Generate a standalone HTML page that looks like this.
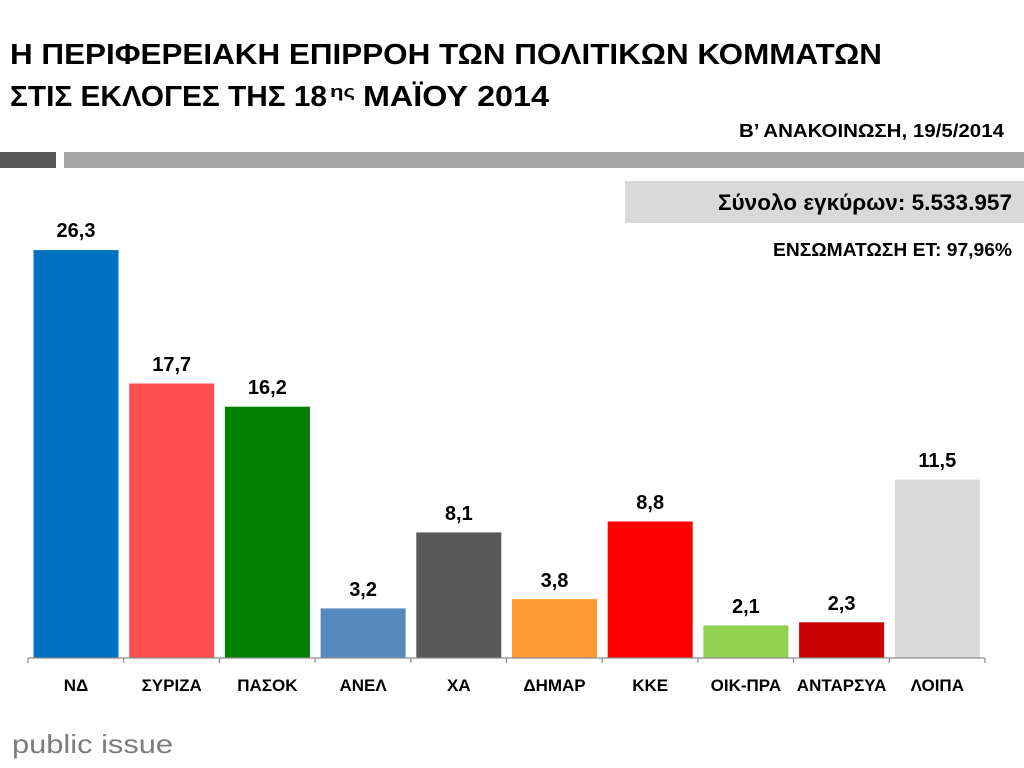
<!DOCTYPE html>
<html>
<head>
<meta charset="utf-8">
<style>
  html, body { margin: 0; padding: 0; background: #ffffff; }
  svg { display: block; }
  text { font-family: "Liberation Sans", "DejaVu Sans", sans-serif; }
</style>
</head>
<body>
<svg width="1024" height="768" viewBox="0 0 1024 768" xmlns="http://www.w3.org/2000/svg">
  <rect x="0" y="0" width="1024" height="768" fill="#ffffff"/>

  <!-- Title -->
  <text x="10" y="64" font-size="29" font-weight="bold" fill="#000" textLength="872" lengthAdjust="spacingAndGlyphs">Η ΠΕΡΙΦΕΡΕΙΑΚΗ ΕΠΙΡΡΟΗ ΤΩΝ ΠΟΛΙΤΙΚΩΝ ΚΟΜΜΑΤΩΝ</text>
  <text x="10" y="106" font-size="29" font-weight="bold" fill="#000" textLength="317" lengthAdjust="spacingAndGlyphs">ΣΤΙΣ ΕΚΛΟΓΕΣ ΤΗΣ 18</text>
  <text x="330" y="97" font-size="17" font-weight="bold" fill="#000" textLength="25" lengthAdjust="spacingAndGlyphs">ης</text>
  <text x="363" y="106" font-size="29" font-weight="bold" fill="#000" textLength="186" lengthAdjust="spacingAndGlyphs">ΜΑΪΟΥ 2014</text>

  <!-- Subtitle -->
  <text x="739" y="137" font-size="18" font-weight="bold" fill="#000" textLength="265" lengthAdjust="spacingAndGlyphs">Β’ ΑΝΑΚΟΙΝΩΣΗ, 19/5/2014</text>

  <!-- separator bars -->
  <rect x="0" y="152" width="56" height="16" fill="#595959"/>
  <rect x="64" y="152" width="960" height="16" fill="#A6A6A6"/>

  <!-- total box -->
  <rect x="625" y="181" width="399" height="42" fill="#D9D9D9"/>
  <text x="718" y="210" font-size="22" font-weight="bold" fill="#000" textLength="294" lengthAdjust="spacingAndGlyphs">Σύνολο εγκύρων: 5.533.957</text>
  <text x="773" y="256" font-size="18" font-weight="bold" fill="#000" textLength="239" lengthAdjust="spacingAndGlyphs">ΕΝΣΩΜΑΤΩΣΗ ΕΤ: 97,96%</text>

  <!-- bars -->
  <rect x="33.5" y="250.1" width="85" height="407.9" fill="#0070C0"/>
  <rect x="129.2" y="383.5" width="85" height="274.5" fill="#FF5050"/>
  <rect x="224.9" y="406.7" width="85" height="251.3" fill="#008000"/>
  <rect x="320.6" y="608.4" width="85" height="49.6" fill="#5689BE"/>
  <rect x="416.3" y="532.4" width="85" height="125.6" fill="#595959"/>
  <rect x="512.0" y="599.1" width="85" height="58.9" fill="#FF9933"/>
  <rect x="607.7" y="521.5" width="85" height="136.5" fill="#FF0000"/>
  <rect x="703.4" y="625.4" width="85" height="32.6" fill="#92D050"/>
  <rect x="799.1" y="622.3" width="85" height="35.7" fill="#C80000"/>
  <rect x="894.8" y="479.6" width="85" height="178.4" fill="#D9D9D9"/>

  <!-- value labels -->
  <g font-size="20" font-weight="bold" fill="#000" text-anchor="middle">
    <text x="76" y="237">26,3</text>
    <text x="171.7" y="371">17,7</text>
    <text x="267.4" y="394">16,2</text>
    <text x="363.1" y="596">3,2</text>
    <text x="458.8" y="520">8,1</text>
    <text x="554.5" y="587">3,8</text>
    <text x="650.2" y="509">8,8</text>
    <text x="745.9" y="613">2,1</text>
    <text x="841.6" y="610">2,3</text>
    <text x="937.3" y="467">11,5</text>
  </g>

  <!-- axis -->
  <line x1="28" y1="658" x2="985" y2="658" stroke="#8C8C8C" stroke-width="1.2"/>
  <g stroke="#8C8C8C" stroke-width="1.2">
    <line x1="28" y1="658" x2="28" y2="663"/>
    <line x1="123.7" y1="658" x2="123.7" y2="663"/>
    <line x1="219.4" y1="658" x2="219.4" y2="663"/>
    <line x1="315.1" y1="658" x2="315.1" y2="663"/>
    <line x1="410.8" y1="658" x2="410.8" y2="663"/>
    <line x1="506.5" y1="658" x2="506.5" y2="663"/>
    <line x1="602.2" y1="658" x2="602.2" y2="663"/>
    <line x1="697.9" y1="658" x2="697.9" y2="663"/>
    <line x1="793.6" y1="658" x2="793.6" y2="663"/>
    <line x1="889.3" y1="658" x2="889.3" y2="663"/>
    <line x1="985" y1="658" x2="985" y2="663"/>
  </g>

  <!-- category labels -->
  <g font-size="17" font-weight="bold" fill="#000" text-anchor="middle">
    <text x="76" y="691">ΝΔ</text>
    <text x="171.7" y="691">ΣΥΡΙΖΑ</text>
    <text x="267.4" y="691">ΠΑΣΟΚ</text>
    <text x="363.1" y="691">ΑΝΕΛ</text>
    <text x="458.8" y="691">ΧΑ</text>
    <text x="554.5" y="691">ΔΗΜΑΡ</text>
    <text x="650.2" y="691">ΚΚΕ</text>
    <text x="745.9" y="691">ΟΙΚ-ΠΡΑ</text>
    <text x="841.6" y="691">ΑΝΤΑΡΣΥΑ</text>
    <text x="937.3" y="691">ΛΟΙΠΑ</text>
  </g>

  <!-- footer logo -->
  <text x="12" y="753" font-size="26" fill="#7A7C7E" textLength="161" lengthAdjust="spacingAndGlyphs">public issue</text>
</svg>
</body>
</html>
